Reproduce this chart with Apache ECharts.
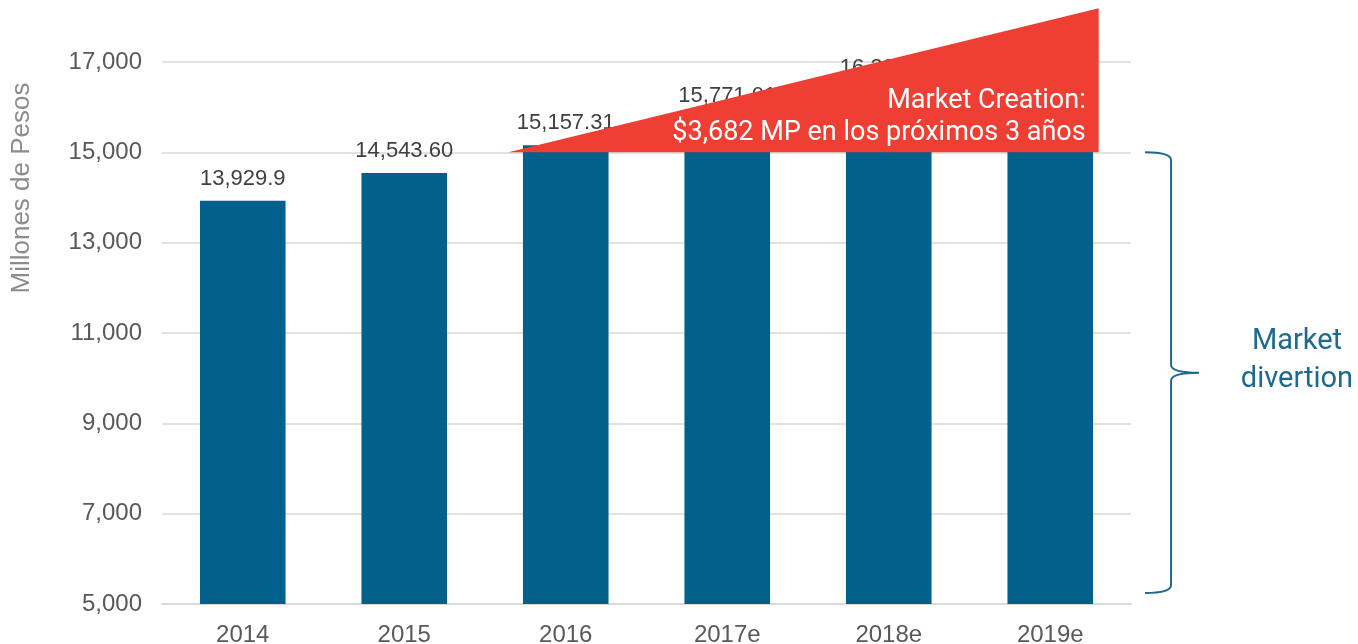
<!DOCTYPE html>
<html>
<head>
<meta charset="utf-8">
<script src="https://cdn.jsdelivr.net/npm/echarts@6/dist/echarts.min.js"></script>
<style>
  html, body { margin: 0; padding: 0; background: #fff; }
  #main { width: 1358px; height: 644px; }
</style>
</head>
<body>
<div id="main"></div>
<script>
const years = ['2014', '2015', '2016', '2017e', '2018e', '2019e']
const sales = [13929.9, 14543.60, 15157.31, 15771.01, 16384.72, 16998.43]
const salesLabels = ['13,929.9', '14,543.60', '15,157.31', '15,771.01', '16,384.72', '16,998.43']

// red "market creation" wedge, in (category position, pesos)
const creationX = [1.645, 5.3, 5.3]
const creationY = [15000, 15000, 18190]
const creationText = ['Market Creation:', '$3,682 MP en los próximos 3 años']

// brace for "market divertion": [end x, spine x, tip x], [top, tip, bottom]
const braceX = [5.587, 5.748, 5.921]
const braceY = [15000, 10120, 5243]
const divertionText = 'Market\ndivertion'

const BAR_COLOR = '#02618a'
const RED = '#ef3e33'
const GRAY = '#595959'

const chart = echarts.init(document.getElementById('main'))

function renderCreation(params, api) {
  const pts = creationX.map((x, i) => api.coord([x, creationY[i]]))
  const right = pts[1][0]
  const base = pts[1][1]
  const textStyle = {
    align: 'right', verticalAlign: 'middle', fill: '#fff',
    font: '27px Roboto, sans-serif'
  }
  return {
    type: 'group',
    children: [
      { type: 'polygon', shape: { points: pts }, style: { fill: RED } },
      { type: 'text', style: { ...textStyle, text: creationText[0], x: right - 13, y: base - 51 } },
      { type: 'text', style: { ...textStyle, text: creationText[1], x: right - 13, y: base - 19 } }
    ]
  }
}

function renderBrace(params, api) {
  const top = api.coord([braceX[0], braceY[0]])
  const mid = api.coord([braceX[2], braceY[1]])
  const bot = api.coord([braceX[0], braceY[2]])
  const spine = api.coord([braceX[1], braceY[1]])[0]
  const x0 = top[0], x2 = mid[0], yt = top[1], ym = mid[1], yb = bot[1]
  const r = 8
  const path = [
    `M${x0},${yt}`,
    `Q${spine},${yt} ${spine},${yt + r}`,
    `L${spine},${ym - r}`,
    `Q${spine},${ym} ${x2},${ym}`,
    `Q${spine},${ym} ${spine},${ym + r}`,
    `L${spine},${yb - r}`,
    `Q${spine},${yb} ${x0},${yb}`
  ].join(' ')
  return {
    type: 'group',
    children: [
      {
        type: 'path',
        shape: { pathData: path },
        style: { fill: 'none', stroke: '#1d6a8d', lineWidth: 2 }
      },
      {
        type: 'text',
        style: {
          text: divertionText, x: x2 + 98, y: ym - 12,
          align: 'center', verticalAlign: 'middle', fill: '#1d6a8d',
          font: '29px Roboto, sans-serif', lineHeight: 38
        }
      }
    ]
  }
}

chart.setOption({
  animation: false,
  grid: { left: 162, right: 227, top: 62, bottom: 40, outerBoundsMode: 'none' },
  xAxis: [
    {
      type: 'category',
      data: years,
      axisTick: { show: false },
      axisLine: { lineStyle: { color: '#d9d9d9', width: 2 } },
      axisLabel: {
        color: GRAY, fontSize: 24, margin: 19,
        fontFamily: "'Liberation Sans', Arial, sans-serif"
      }
    },
    { type: 'value', min: -0.5, max: 5.5, show: false }
  ],
  yAxis: {
    type: 'value',
    min: 5000,
    max: 17000,
    interval: 2000,
    axisLine: { show: false },
    axisTick: { show: false },
    splitLine: { lineStyle: { color: '#d9d9d9', width: 1.5 } },
    axisLabel: {
      color: GRAY, fontSize: 24, margin: 20,
      fontFamily: "'Liberation Sans', Arial, sans-serif",
      formatter: v => v.toLocaleString('en-US')
    }
  },
  graphic: [{
    type: 'text',
    x: 22, y: 188,
    rotation: Math.PI / 2,
    style: {
      text: 'Millones de Pesos', fill: '#8c8c8c',
      font: "26px 'Liberation Sans', Arial, sans-serif",
      align: 'center', verticalAlign: 'middle'
    }
  }],
  series: [
    {
      type: 'bar',
      data: sales,
      barWidth: '53%',
      z: 2,
      itemStyle: { color: BAR_COLOR },
      label: {
        show: true, position: 'top', distance: 11,
        color: '#404040', fontSize: 22,
        fontFamily: "'Liberation Sans', Arial, sans-serif",
        formatter: p => salesLabels[p.dataIndex]
      }
    },
    {
      type: 'custom',
      xAxisIndex: 1,
      clip: false,
      z: 10,
      silent: true,
      data: [0],
      renderItem: renderCreation
    },
    {
      type: 'custom',
      xAxisIndex: 1,
      clip: false,
      z: 10,
      silent: true,
      data: [0],
      renderItem: renderBrace
    }
  ]
})
</script>
</body>
</html>
